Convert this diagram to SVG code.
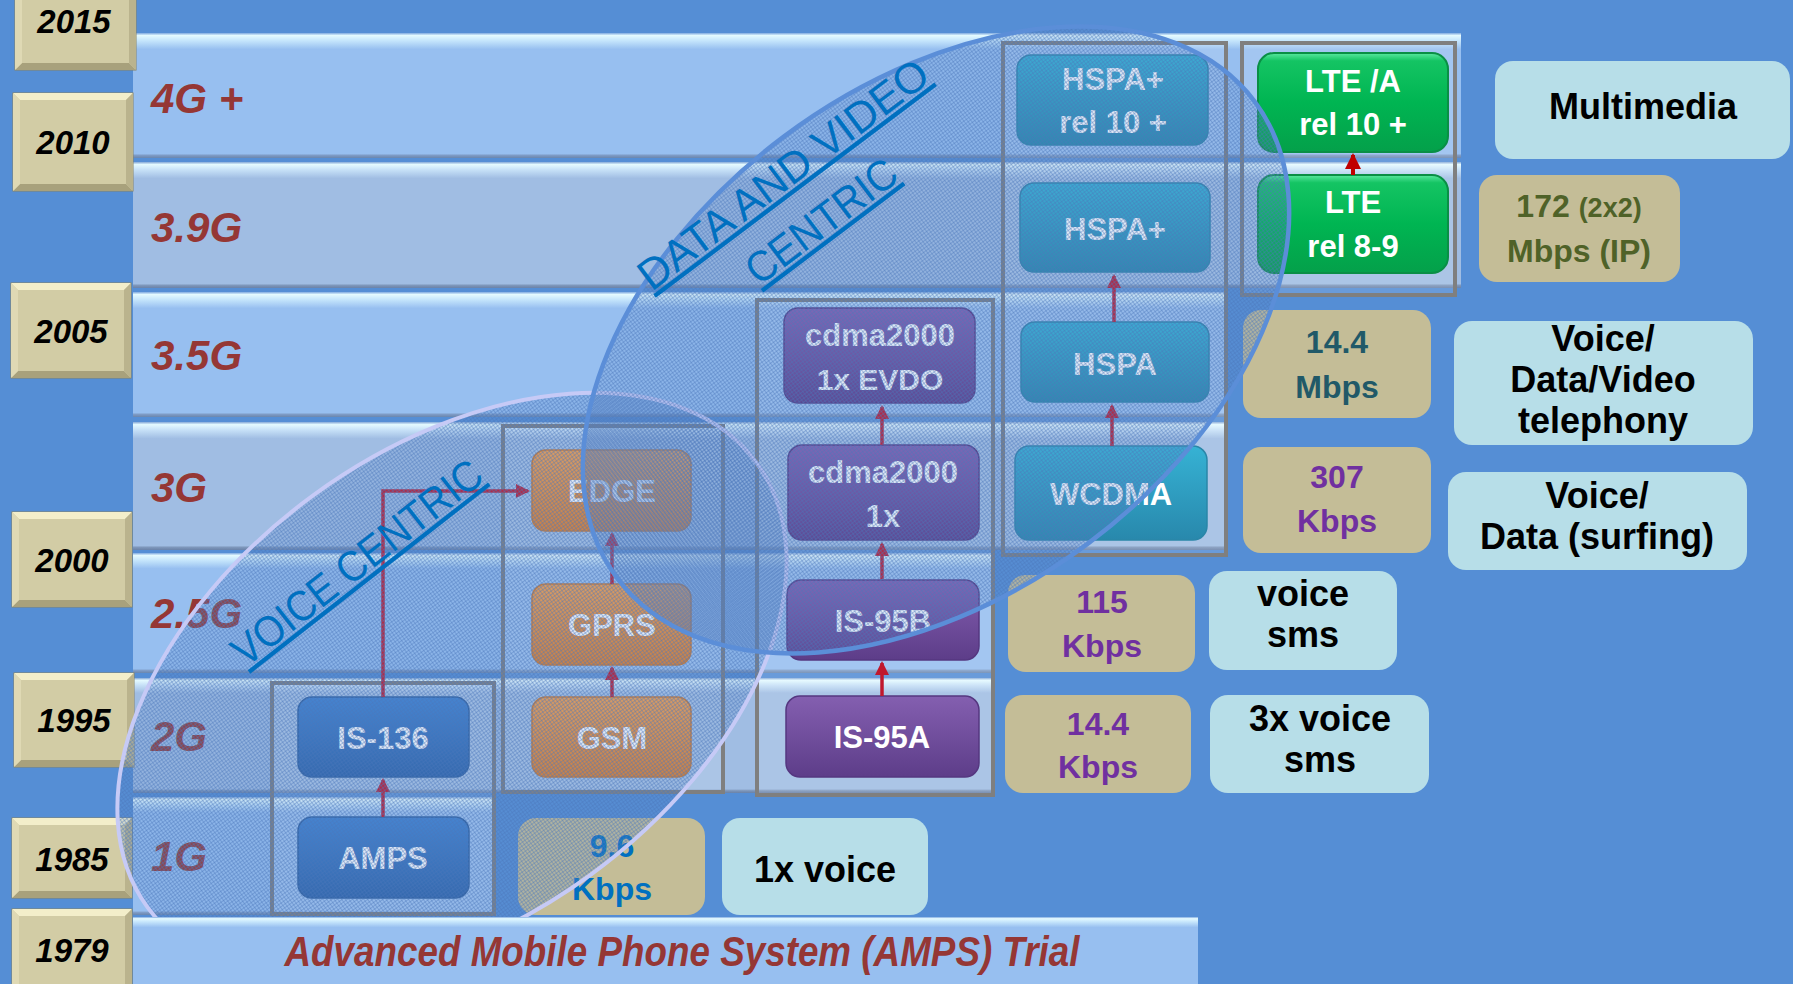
<svg xmlns="http://www.w3.org/2000/svg" width="1793" height="984" viewBox="0 0 1793 984">
<defs>
<style>
.yr{font-family:"Liberation Sans",Arial,sans-serif;font-weight:bold;font-style:italic;font-size:33px;fill:#000;text-anchor:middle}
.gen{font-family:"Liberation Sans",Arial,sans-serif;font-weight:bold;font-style:italic;font-size:42px;fill:#953735}
.nt{font-family:"Liberation Sans",Arial,sans-serif;font-weight:bold;font-size:31px;fill:#fff;text-anchor:middle}
.sp{font-family:"Liberation Sans",Arial,sans-serif;font-weight:bold;font-size:32px;text-anchor:middle}
.uc{font-family:"Liberation Sans",Arial,sans-serif;font-weight:bold;font-size:36px;fill:#000;text-anchor:middle}
.col{fill:#fff;fill-opacity:0.12;stroke:#7F7F7F;stroke-width:4}
.arr{stroke:#C0182D;stroke-width:3.5;fill:none;marker-end:url(#ah)}
.tb{fill:#F3EECA}.bb{fill:#A8A17C}.lb{fill:#DFD9B4}.rb{fill:#BAB38D}
.ybox{fill:#D2CCA5;stroke:#8A8464;stroke-width:1}
.cen{font-family:"Liberation Sans",Arial,sans-serif;font-size:43px;fill:#0070C0;text-anchor:middle;text-decoration:underline}
.spd{fill:#C4BD97}
.use{fill:#B7DEE8}
.blue{fill:#0070C0}.purp{fill:#7030A0}.teal{fill:#215968}.olive{fill:#4F6228}
</style>
<linearGradient id="bandA" x1="0" y1="0" x2="0" y2="1">
<stop offset="0" stop-color="#7FA9E0"/><stop offset="0.02" stop-color="#E4FAFF"/><stop offset="0.06" stop-color="#C6E6FC"/><stop offset="0.13" stop-color="#97BFF0"/><stop offset="0.965" stop-color="#97BFF0"/><stop offset="0.98" stop-color="#7D9AC4"/><stop offset="1" stop-color="#6A86AE"/>
</linearGradient>
<linearGradient id="bandB" x1="0" y1="0" x2="0" y2="1">
<stop offset="0" stop-color="#85A8D8"/><stop offset="0.02" stop-color="#E4FAFF"/><stop offset="0.06" stop-color="#C8E2F8"/><stop offset="0.13" stop-color="#A0BDE3"/><stop offset="0.965" stop-color="#A0BDE3"/><stop offset="0.98" stop-color="#7D96BA"/><stop offset="1" stop-color="#6A82A8"/>
</linearGradient>
<linearGradient id="gBlue" x1="0" y1="0" x2="0" y2="1"><stop offset="0" stop-color="#4083D2"/><stop offset="1" stop-color="#2C62A8"/></linearGradient>
<linearGradient id="gOrange" x1="0" y1="0" x2="0" y2="1"><stop offset="0" stop-color="#F6A04C"/><stop offset="1" stop-color="#E27F2A"/></linearGradient>
<linearGradient id="gPurple" x1="0" y1="0" x2="0" y2="1"><stop offset="0" stop-color="#845FB0"/><stop offset="1" stop-color="#5D3D89"/></linearGradient>
<linearGradient id="gTeal" x1="0" y1="0" x2="0" y2="1"><stop offset="0" stop-color="#36B2D4"/><stop offset="1" stop-color="#2888AC"/></linearGradient>
<linearGradient id="gGreen" x1="0" y1="0" x2="0" y2="1"><stop offset="0" stop-color="#5AE8A0"/><stop offset="0.08" stop-color="#14C463"/><stop offset="0.5" stop-color="#00B552"/><stop offset="1" stop-color="#04A04A"/></linearGradient>
<pattern id="hatch" width="3" height="3" patternUnits="userSpaceOnUse">
<rect width="3" height="3" fill="#5C88C8" fill-opacity="0.2"/>
<rect width="3" height="1" fill="#4A78BC" fill-opacity="0.4"/>
<rect width="1" height="3" fill="#4A78BC" fill-opacity="0.4"/>
</pattern>
<marker id="ah" viewBox="0 0 14 14" refX="12" refY="7" markerWidth="14" markerHeight="14" markerUnits="userSpaceOnUse" orient="auto"><path d="M0,0 L14,7 L0,14 z" fill="#C0182D"/></marker>
<marker id="ah2" viewBox="0 0 16 16" refX="14" refY="8" markerWidth="16" markerHeight="16" markerUnits="userSpaceOnUse" orient="auto"><path d="M0,0 L16,8 L0,16 z" fill="#C00000"/></marker>
</defs>

<rect width="1793" height="984" fill="#558ED5"/>

<g id="bands">
<rect x="133" y="33" width="1328" height="125" fill="url(#bandA)"/>
<rect x="133" y="162" width="1328" height="126" fill="url(#bandB)"/>
<rect x="133" y="292" width="1093" height="125" fill="url(#bandA)"/>
<rect x="133" y="422" width="1093" height="128" fill="url(#bandB)"/>
<rect x="133" y="553" width="860" height="120" fill="url(#bandA)"/>
<rect x="133" y="678" width="860" height="115" fill="url(#bandB)"/>
<rect x="133" y="797" width="360" height="118" fill="url(#bandA)"/>
</g>

<g id="years">
<g id="y2015"><rect class="ybox" x="15" y="-10" width="121" height="80"/><polygon class="tb" points="15,-10 136,-10 129,-3 22,-3"/><polygon class="bb" points="15,70 136,70 129,63 22,63"/><polygon class="lb" points="15,-10 22,-3 22,63 15,70"/><polygon class="rb" points="136,-10 129,-3 129,63 136,70"/><text class="yr" x="74" y="33">2015</text></g>
<g id="y2010"><rect class="ybox" x="13" y="93" width="120" height="98"/><polygon class="tb" points="13,93 133,93 126,100 20,100"/><polygon class="bb" points="13,191 133,191 126,184 20,184"/><polygon class="lb" points="13,93 20,100 20,184 13,191"/><polygon class="rb" points="133,93 126,100 126,184 133,191"/><text class="yr" x="73" y="154">2010</text></g>
<g id="y2005"><rect class="ybox" x="11" y="283" width="120" height="95"/><polygon class="tb" points="11,283 131,283 124,290 18,290"/><polygon class="bb" points="11,378 131,378 124,371 18,371"/><polygon class="lb" points="11,283 18,290 18,371 11,378"/><polygon class="rb" points="131,283 124,290 124,371 131,378"/><text class="yr" x="71" y="343">2005</text></g>
<g id="y2000"><rect class="ybox" x="12" y="512" width="120" height="95"/><polygon class="tb" points="12,512 132,512 125,519 19,519"/><polygon class="bb" points="12,607 132,607 125,600 19,600"/><polygon class="lb" points="12,512 19,519 19,600 12,607"/><polygon class="rb" points="132,512 125,519 125,600 132,607"/><text class="yr" x="72" y="572">2000</text></g>
<g id="y1995"><rect class="ybox" x="14" y="673" width="120" height="94"/><polygon class="tb" points="14,673 134,673 127,680 21,680"/><polygon class="bb" points="14,767 134,767 127,760 21,760"/><polygon class="lb" points="14,673 21,680 21,760 14,767"/><polygon class="rb" points="134,673 127,680 127,760 134,767"/><text class="yr" x="74" y="732">1995</text></g>
<g id="y1985"><rect class="ybox" x="12" y="818" width="120" height="80"/><polygon class="tb" points="12,818 132,818 125,825 19,825"/><polygon class="bb" points="12,898 132,898 125,891 19,891"/><polygon class="lb" points="12,818 19,825 19,891 12,898"/><polygon class="rb" points="132,818 125,825 125,891 132,898"/><text class="yr" x="72" y="871">1985</text></g>
</g>

<g id="gens">
<text class="gen" x="151" y="113">4G +</text>
<text class="gen" x="151" y="242">3.9G</text>
<text class="gen" x="151" y="370">3.5G</text>
<text class="gen" x="151" y="502">3G</text>
<text class="gen" x="151" y="628">2.5G</text>
<text class="gen" x="151" y="751">2G</text>
<text class="gen" x="151" y="871">1G</text>
</g>

<g id="columns">
<rect class="col" x="272" y="683" width="222" height="231"/>
<rect class="col" x="503" y="426" width="220" height="366"/>
<rect class="col" x="757" y="300" width="236" height="495"/>
<rect class="col" x="1003" y="43" width="223" height="512"/>
<rect class="col" x="1242" y="43" width="213" height="252"/>
</g>

<g id="n-amps"><rect x="298" y="817" width="171" height="81" rx="14" fill="url(#gBlue)" stroke="#2D5F9F" stroke-width="1.5"/><text class="nt" x="383" y="869">AMPS</text></g>
<g id="n-is136"><rect x="298" y="697" width="171" height="80" rx="14" fill="url(#gBlue)" stroke="#2D5F9F" stroke-width="1.5"/><text class="nt" x="383" y="749" font-size="32">IS-136</text></g>
<g id="n-gsm"><rect x="532" y="697" width="159" height="80" rx="14" fill="url(#gOrange)" stroke="#D27A2C" stroke-width="1.5"/><text class="nt" x="612" y="749" font-size="33">GSM</text></g>
<g id="n-gprs"><rect x="532" y="584" width="159" height="81" rx="14" fill="url(#gOrange)" stroke="#D27A2C" stroke-width="1.5"/><text class="nt" x="612" y="636" font-size="30">GPRS</text></g>
<g id="n-edge"><rect x="532" y="450" width="159" height="81" rx="14" fill="url(#gOrange)" stroke="#D27A2C" stroke-width="1.5"/><text class="nt" x="612" y="502" font-size="30">EDGE</text></g>
<g id="n-is95a"><rect x="786" y="696" width="193" height="81" rx="14" fill="url(#gPurple)" stroke="#553780" stroke-width="1.5"/><text class="nt" x="882" y="748" font-size="32">IS-95A</text></g>
<g id="n-is95b"><rect x="787" y="580" width="192" height="80" rx="14" fill="url(#gPurple)" stroke="#553780" stroke-width="1.5"/><text class="nt" x="883" y="632" font-size="32">IS-95B</text></g>
<g id="n-cdma1x"><rect x="788" y="445" width="191" height="95" rx="14" fill="url(#gPurple)" stroke="#553780" stroke-width="1.5"/><text class="nt" font-size="28"><tspan x="883" y="483">cdma2000</tspan><tspan x="883" y="527" font-size="31">1x</tspan></text></g>
<g id="n-evdo"><rect x="784" y="308" width="191" height="95" rx="14" fill="url(#gPurple)" stroke="#553780" stroke-width="1.5"/><text class="nt" font-size="28"><tspan x="880" y="346">cdma2000</tspan><tspan x="880" y="390" font-size="30">1x EVDO</tspan></text></g>
<g id="n-wcdma"><rect x="1015" y="446" width="192" height="94" rx="14" fill="url(#gTeal)" stroke="#2A86A8" stroke-width="1.5"/><text class="nt" x="1111" y="505" font-size="33">WCDMA</text></g>
<g id="n-hspa"><rect x="1021" y="322" width="188" height="80" rx="14" fill="url(#gTeal)" stroke="#2A86A8" stroke-width="1.5"/><text class="nt" x="1115" y="375">HSPA</text></g>
<g id="n-hspap"><rect x="1020" y="183" width="190" height="89" rx="14" fill="url(#gTeal)" stroke="#2A86A8" stroke-width="1.5"/><text class="nt" x="1115" y="240">HSPA+</text></g>
<g id="n-hspap10"><rect x="1017" y="55" width="191" height="90" rx="14" fill="url(#gTeal)" stroke="#2A86A8" stroke-width="1.5"/><text class="nt"><tspan x="1113" y="90">HSPA+</tspan><tspan x="1113" y="133">rel 10 +</tspan></text></g>
<g id="n-lte"><rect x="1258" y="175" width="190" height="98" rx="16" fill="url(#gGreen)" stroke="#0A8F45" stroke-width="2"/><text class="nt" font-size="33"><tspan x="1353" y="213">LTE</tspan><tspan x="1353" y="257">rel 8-9</tspan></text></g>
<g id="n-ltea"><rect x="1258" y="53" width="190" height="99" rx="16" fill="url(#gGreen)" stroke="#0A8F45" stroke-width="2"/><text class="nt" font-size="33"><tspan x="1353" y="92">LTE /A</tspan><tspan x="1353" y="135">rel 10 +</tspan></text></g>

<g id="connectors">
<path class="arr" d="M383,817 V780"/>
<path class="arr" d="M383,697 V491 H528"/>
<path class="arr" d="M612,697 V668"/>
<path class="arr" d="M612,584 V534"/>
<path class="arr" d="M882,696 V663"/>
<path class="arr" d="M882,579 V544"/>
<path class="arr" d="M882,445 V407"/>
<path class="arr" d="M1112,446 V406"/>
<path class="arr" d="M1114,322 V276"/>
<path d="M1353,175 V155" stroke="#C00000" stroke-width="4" fill="none" marker-end="url(#ah2)"/>
</g>

<g id="speeds">
<g id="s96"><rect class="spd" x="518" y="818" width="187" height="97" rx="18"/><text class="sp blue"><tspan x="612" y="857">9.6</tspan><tspan x="612" y="900">Kbps</tspan></text></g>
<g id="s144k"><rect class="spd" x="1005" y="695" width="186" height="98" rx="18"/><text class="sp purp"><tspan x="1098" y="735">14.4</tspan><tspan x="1098" y="778">Kbps</tspan></text></g>
<g id="s115"><rect class="spd" x="1008" y="575" width="187" height="97" rx="18"/><text class="sp purp"><tspan x="1102" y="613">115</tspan><tspan x="1102" y="657">Kbps</tspan></text></g>
<g id="s307"><rect class="spd" x="1243" y="447" width="188" height="106" rx="18"/><text class="sp purp"><tspan x="1337" y="488">307</tspan><tspan x="1337" y="532">Kbps</tspan></text></g>
<g id="s144m"><rect class="spd" x="1243" y="310" width="188" height="108" rx="18"/><text class="sp teal"><tspan x="1337" y="353">14.4</tspan><tspan x="1337" y="398">Mbps</tspan></text></g>
<g id="s172"><rect class="spd" x="1479" y="175" width="201" height="107" rx="18"/><text class="sp olive"><tspan x="1579" y="217">172 <tspan font-size="27">(2x2)</tspan></tspan><tspan x="1579" y="262">Mbps (IP)</tspan></text></g>
</g>

<g id="uses">
<g id="u1x"><rect class="use" x="722" y="818" width="206" height="97" rx="18"/><text class="uc" x="825" y="882">1x voice</text></g>
<g id="u3x"><rect class="use" x="1210" y="695" width="219" height="98" rx="18"/><text class="uc"><tspan x="1320" y="731">3x voice</tspan><tspan x="1320" y="772">sms</tspan></text></g>
<g id="uvs"><rect class="use" x="1209" y="571" width="188" height="99" rx="18"/><text class="uc"><tspan x="1303" y="606">voice</tspan><tspan x="1303" y="647">sms</tspan></text></g>
<g id="usurf"><rect class="use" x="1448" y="472" width="299" height="98" rx="18"/><text class="uc"><tspan x="1597" y="508">Voice/</tspan><tspan x="1597" y="549">Data (surfing)</tspan></text></g>
<g id="utel"><rect class="use" x="1454" y="321" width="299" height="124" rx="18"/><text class="uc"><tspan x="1603" y="351">Voice/</tspan><tspan x="1603" y="392">Data/Video</tspan><tspan x="1603" y="433">telephony</tspan></text></g>
<g id="umm"><rect class="use" x="1495" y="61" width="295" height="98" rx="18"/><text class="uc" x="1643" y="119" font-size="39">Multimedia</text></g>
</g>

<g id="voice-circle"><ellipse transform="translate(452,685) rotate(-36.1)" rx="377" ry="235" fill="url(#hatch)" stroke="#C6CAF6" stroke-width="4"/></g>
<g id="data-circle"><ellipse transform="translate(936,340) rotate(-36.8)" rx="398" ry="254" fill="url(#hatch)" stroke="#5B8ED8" stroke-width="4.5"/></g>

<g id="amps-trial">
<rect x="133" y="917" width="1065" height="80" fill="url(#bandA)"/>
<text class="gen" x="682" y="966" font-size="37" text-anchor="middle" textLength="795" lengthAdjust="spacingAndGlyphs">Advanced Mobile Phone System (AMPS) Trial</text>
</g>
<g id="y1979"><rect class="ybox" x="12" y="909" width="120" height="90"/><polygon class="tb" points="12,909 132,909 125,916 19,916"/><polygon class="lb" points="12,909 19,916 19,992 12,999"/><polygon class="rb" points="132,909 125,916 125,992 132,999"/><text class="yr" x="72" y="962">1979</text></g>

<g id="centric-labels">
<text class="cen" transform="translate(366,574) rotate(-38)" font-size="39" textLength="305" lengthAdjust="spacingAndGlyphs">VOICE CENTRIC</text>
<text class="cen" transform="translate(792,186) rotate(-37)" textLength="352" lengthAdjust="spacingAndGlyphs">DATA AND VIDEO</text>
<text class="cen" transform="translate(830,233) rotate(-37)" textLength="178" lengthAdjust="spacingAndGlyphs">CENTRIC</text>
</g>
</svg>
